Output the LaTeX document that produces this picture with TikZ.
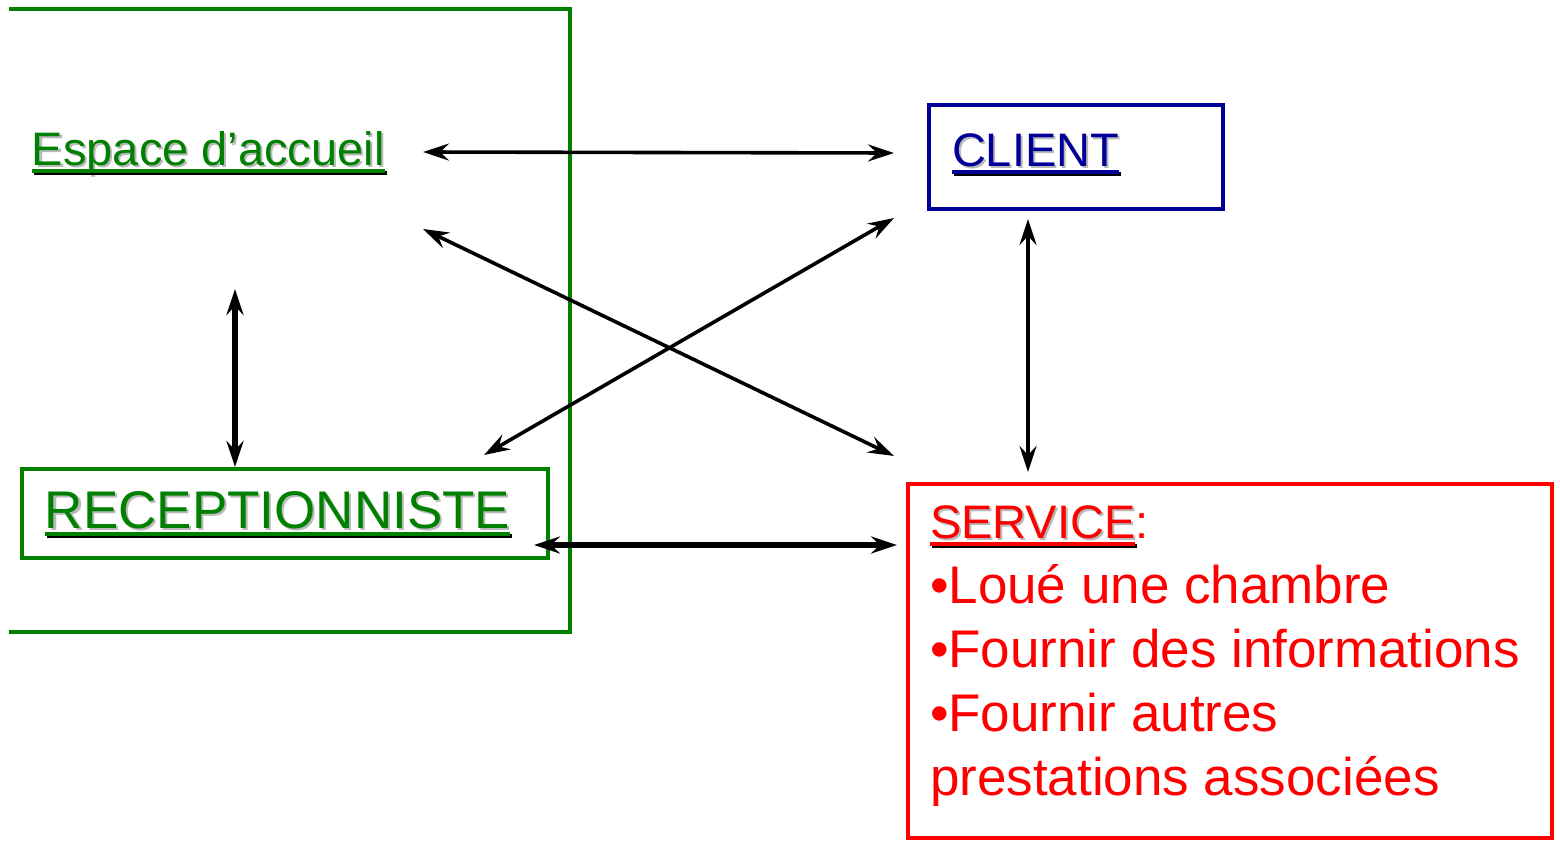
\documentclass[tikz,border=0pt]{standalone}
\usepackage{fontspec}
\setmainfont{Liberation Sans}
\usetikzlibrary{arrows.meta}

\definecolor{fgreen}{RGB}{0,128,0}
\definecolor{fblue}{RGB}{0,0,153}
\definecolor{fred}{RGB}{255,0,0}
\definecolor{shade}{RGB}{185,185,185}

\tikzset{
  frame/.style={line width=2pt, line join=miter},
  box/.style={draw, line width=2pt, rectangle, inner sep=0pt, fill=none},
  ttl/.style={anchor=base west, inner sep=0pt, outer sep=0pt},
  smallfont/.style={font=\fontsize{23.5}{28}\selectfont},
  largefont/.style={font=\fontsize{26.5}{32}\selectfont},
  link/.style={line width=1.8pt,
    {Stealth[length=13pt,width=8.5pt,inset=4.5pt]}-{Stealth[length=13pt,width=8.5pt,inset=4.5pt]}},
  heavy/.style={link, line width=2.6pt},
  uline/.style={line width=2pt},
}

% underlined title with a soft drop shadow
\newcommand\shadowtitle[5]{% name, base-west point (x,y without parentheses), colour, size style, text
  \node[ttl,#4,text=shade] (#1-sh) at ([shift={(1pt,-1pt)}]#2) {#5};
  \node[ttl,#4,text=#3] (#1) at (#2) {#5};
  \draw[uline,shade] ([shift={(1pt,-4pt)}]#1.base west) -- ([shift={(1pt,-4pt)}]#1.base east);
  \draw[uline,#3] ([yshift=-3pt]#1.base west) -- ([yshift=-3pt]#1.base east);
}

\begin{document}
\begin{tikzpicture}[x=0.5pt,y=-0.5pt]
\useasboundingbox (0,0) rectangle (1560,841);

% open green frame around the reception area
\draw[frame,fgreen] (9,9) -- (570,9) -- (570,632) -- (9,632);

% boxes
\node[box,draw=fblue,minimum width=147pt,minimum height=52pt] (clientbox) at (1076,157) {};
\node[box,draw=fgreen,minimum width=263pt,minimum height=44.5pt] (recepbox) at (285,513.5) {};
\node[box,draw=fred,minimum width=322pt,minimum height=177pt] (servbox) at (1230,661) {};

% titles
\shadowtitle{espace}{32,165}{fgreen}{smallfont}{Espace d’accueil}
\shadowtitle{client}{952,166}{fblue}{smallfont}{CLIENT}
\shadowtitle{recep}{45,528}{fgreen}{largefont}{RECEPTIONNISTE}
\shadowtitle{service}{930,538}{fred}{smallfont}{SERVICE}
\node[ttl,smallfont,text=fred] (colon) at (service.base east) {:};

% service list
\node[ttl,largefont,text=fred] (l1) at (930,603) {•Loué une chambre};
\node[ttl,largefont,text=fred] (l2) at (930,667) {•Fournir des informations};
\node[ttl,largefont,text=fred] (l3) at (930,731) {•Fournir autres};
\node[ttl,largefont,text=fred] (l4) at (930,795) {prestations associées};

% connector ends
\coordinate (eR) at (423,152);
\coordinate (cL) at (894,153);
\coordinate (eD) at (423,229);
\coordinate (sU) at (894,456);
\coordinate (rU) at (484,455);
\coordinate (cD) at (894,218);
\coordinate (eB) at (235,289);
\coordinate (cB) at (1028,219);
\coordinate (sT) at (1028,472);
\coordinate (rR) at (534,545);
\coordinate (sL) at (897,545);

% connectors
\draw[link] (eR) -- (cL);
\draw[link] (eD) -- (sU);
\draw[link] (rU) -- (cD);
\draw[heavy] (eB) -- (eB |- recepbox.north);
\draw[link] (cB) -- (sT);
\draw[heavy] (rR) -- (sL);
\end{tikzpicture}
\end{document}
